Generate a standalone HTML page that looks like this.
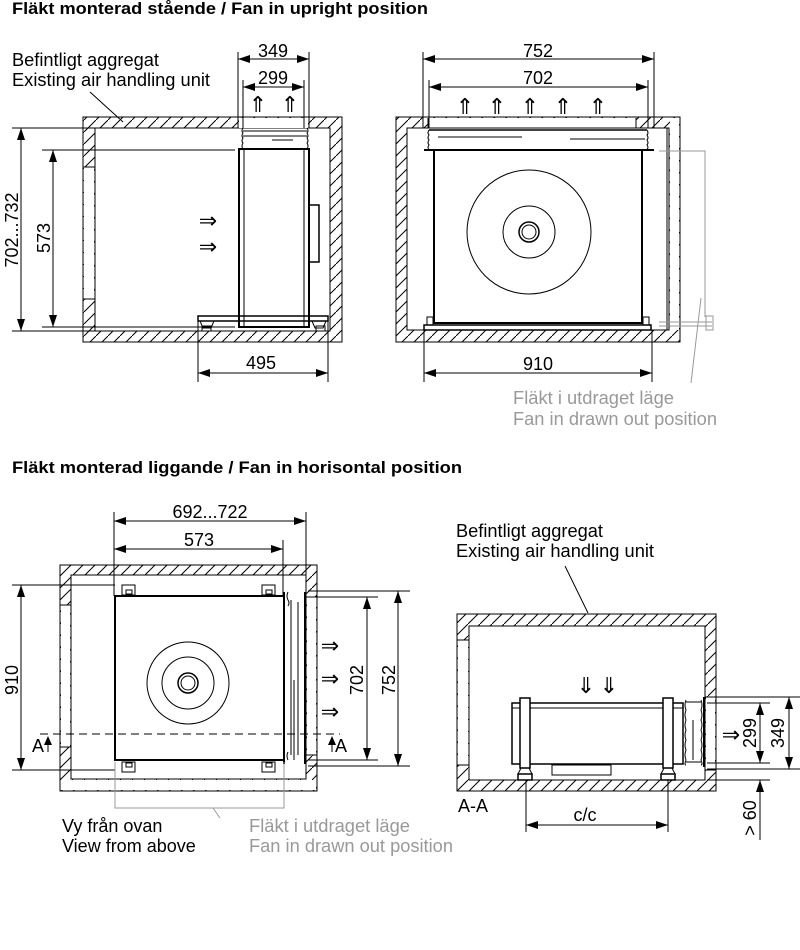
<!DOCTYPE html>
<html><head><meta charset="utf-8"><style>
html,body{margin:0;padding:0;background:#fff}
svg{display:block}
text{font-family:"Liberation Sans",Arial,sans-serif;fill:#000}
.t{font-size:18px}
.b{font-size:17px;font-weight:bold}
.g{fill:#999}
.ar{font-size:22px;font-family:"DejaVu Sans",sans-serif}
</style></head><body>
<svg width="800" height="950" viewBox="0 0 800 950" xmlns="http://www.w3.org/2000/svg">
<defs>
<pattern id="h" patternUnits="userSpaceOnUse" width="12" height="12">
<line x1="-1" y1="13" x2="13" y2="-1" stroke="#000" stroke-width="1"/>
</pattern>
<marker id="ae" viewBox="0 0 12 8" refX="12" refY="4" markerWidth="12" markerHeight="8" markerUnits="userSpaceOnUse" orient="auto"><path d="M0,0L12,4L0,8z" fill="#000"/></marker>
<marker id="as" viewBox="0 0 12 8" refX="0" refY="4" markerWidth="12" markerHeight="8" markerUnits="userSpaceOnUse" orient="auto"><path d="M12,0L0,4L12,8z" fill="#000"/></marker>
</defs>

<text x="12" y="14" class="b" textLength="416" lengthAdjust="spacingAndGlyphs">Fläkt monterad stående / Fan in upright position</text>
<text x="12" y="473" class="b" textLength="450" lengthAdjust="spacingAndGlyphs">Fläkt monterad liggande / Fan in horisontal position</text>

<!-- ===== Diagram 1 ===== -->
<rect x="83" y="117" width="259" height="225" fill="url(#h)" stroke="#000"/>
<rect x="95" y="128" width="235" height="203" fill="#fff" stroke="#000"/>
<rect x="84" y="167" width="10" height="132" fill="#fff"/>
<line x1="83" y1="167" x2="95" y2="167" stroke="#000"/>
<line x1="83" y1="299" x2="95" y2="299" stroke="#000"/>
<rect x="239" y="118" width="69" height="10" fill="#fff"/>
<g stroke="#000" fill="none">
<line x1="238" y1="52" x2="238" y2="128"/><line x1="309" y1="52" x2="309" y2="128"/>
<line x1="243" y1="80" x2="243" y2="128"/><line x1="304" y1="80" x2="304" y2="128"/>
<line x1="238" y1="59" x2="309" y2="59" marker-start="url(#as)" marker-end="url(#ae)"/>
<line x1="243" y1="87" x2="304" y2="87" marker-start="url(#as)" marker-end="url(#ae)"/>
<path d="M243,128 q-2,3 0,5 q-2,3 0,5 q-2,3 0,5 q-2,3 0,6"/>
<path d="M307,128 q2,3 0,5 q2,3 0,5 q2,3 0,5 q2,3 0,6"/>
<line x1="243" y1="131" x2="307" y2="131"/><line x1="243" y1="136" x2="307" y2="136"/>
<line x1="272" y1="140" x2="293" y2="140"/>
<rect x="239" y="149" width="70" height="178" stroke-width="2"/>
<line x1="244" y1="149" x2="244" y2="327"/><line x1="304" y1="149" x2="304" y2="327"/>
<rect x="309" y="205" width="10" height="57" stroke-width="1.5"/>
<rect x="198" y="316" width="130" height="5" stroke-width="1.5"/>
<path d="M200,321 l3,7 h8 l3,-7"/><rect x="202" y="326" width="9" height="5"/>
<path d="M312,321 l3,7 h8 l3,-7"/><rect x="316" y="326" width="9" height="5"/>
<line x1="12" y1="128" x2="95" y2="128"/><line x1="12" y1="331" x2="95" y2="331"/>
<line x1="21" y1="128" x2="21" y2="331" marker-start="url(#as)" marker-end="url(#ae)"/>
<line x1="42" y1="150" x2="235" y2="150"/><line x1="42" y1="327" x2="235" y2="327"/>
<line x1="53" y1="150" x2="53" y2="327" marker-start="url(#as)" marker-end="url(#ae)"/>
<line x1="198" y1="318" x2="198" y2="382"/><line x1="328" y1="318" x2="328" y2="382"/>
<line x1="198" y1="373" x2="328" y2="373" marker-start="url(#as)" marker-end="url(#ae)"/>
<line x1="90" y1="92" x2="123" y2="122"/>
</g>
<text x="12" y="66" class="t" textLength="147" lengthAdjust="spacingAndGlyphs">Befintligt aggregat</text>
<text x="12" y="86" class="t" textLength="198" lengthAdjust="spacingAndGlyphs">Existing air handling unit</text>
<text x="273" y="57" text-anchor="middle" class="t">349</text>
<text x="273" y="84" text-anchor="middle" class="t">299</text>
<text x="258" y="112" text-anchor="middle" class="ar">⇑</text>
<text x="290" y="112" text-anchor="middle" class="ar">⇑</text>
<text x="208" y="228" text-anchor="middle" class="ar">⇒</text>
<text x="208" y="254" text-anchor="middle" class="ar">⇒</text>
<text transform="translate(18,230) rotate(-90)" text-anchor="middle" class="t">702...732</text>
<text transform="translate(50,238) rotate(-90)" text-anchor="middle" class="t">573</text>
<text x="261" y="369" text-anchor="middle" class="t">495</text>

<!-- ===== Diagram 2 ===== -->
<rect x="396" y="117" width="284" height="225" fill="url(#h)" stroke="#000"/>
<rect x="407" y="128" width="262" height="202" fill="#fff" stroke="#000"/>
<rect x="670" y="118" width="9" height="212" fill="#fff"/>
<rect x="428" y="118" width="208" height="10" fill="#fff"/>
<g stroke="#000" fill="none">
<line x1="667" y1="128" x2="667" y2="330"/>
<line x1="423" y1="52" x2="423" y2="128"/><line x1="654" y1="52" x2="654" y2="128"/>
<line x1="429" y1="80" x2="429" y2="128"/><line x1="648" y1="80" x2="648" y2="128"/>
<line x1="423" y1="59" x2="654" y2="59" marker-start="url(#as)" marker-end="url(#ae)"/>
<line x1="429" y1="87" x2="648" y2="87" marker-start="url(#as)" marker-end="url(#ae)"/>
<line x1="428" y1="128" x2="636" y2="128"/>
<line x1="428" y1="118" x2="428" y2="128"/><line x1="636" y1="118" x2="636" y2="128"/>
<path d="M429,130 q-2,3 0,5 q-2,3 0,5 q-2,3 0,5 q-2,3 0,4"/>
<path d="M647,130 q2,3 0,5 q2,3 0,5 q2,3 0,5 q2,3 0,4"/>
<line x1="429" y1="130" x2="647" y2="130" stroke-width="1.5"/>
<line x1="438" y1="137" x2="522" y2="137"/><line x1="570" y1="139" x2="645" y2="139"/>
<line x1="424" y1="150" x2="654" y2="150" stroke-width="2"/>
<rect x="434" y="150" width="208" height="173" stroke-width="2"/>
<circle cx="529" cy="232" r="62"/><circle cx="529" cy="232" r="26"/>
<circle cx="529" cy="232" r="10" stroke-width="1.5"/><circle cx="529" cy="232" r="7"/>
<rect x="424" y="325" width="227" height="5" stroke-width="1.5"/>
<rect x="427" y="317" width="6" height="8"/><rect x="643" y="317" width="6" height="8"/>
<line x1="424" y1="330" x2="424" y2="382"/><line x1="652" y1="330" x2="652" y2="382"/>
<line x1="424" y1="373" x2="652" y2="373" marker-start="url(#as)" marker-end="url(#ae)"/>
</g>
<g stroke="#999" fill="none">
<path d="M659,151 H705 V317"/>
<line x1="659" y1="322" x2="712" y2="322"/><line x1="659" y1="326" x2="712" y2="326"/>
<rect x="706" y="316" width="7" height="14"/>
<line x1="691" y1="383" x2="701" y2="298"/>
</g>
<text x="538" y="57" text-anchor="middle" class="t">752</text>
<text x="538" y="84" text-anchor="middle" class="t">702</text>
<g text-anchor="middle" class="ar">
<text x="465" y="114" class="ar">⇑</text><text x="497" y="114" class="ar">⇑</text><text x="530" y="114" class="ar">⇑</text><text x="563" y="114" class="ar">⇑</text><text x="598" y="114" class="ar">⇑</text>
</g>
<text x="538" y="370" text-anchor="middle" class="t">910</text>
<text x="513" y="404" class="t g" textLength="161" lengthAdjust="spacingAndGlyphs">Fläkt i utdraget läge</text>
<text x="513" y="425" class="t g" textLength="204" lengthAdjust="spacingAndGlyphs">Fan in drawn out position</text>

<!-- ===== Diagram 3 ===== -->
<rect x="60" y="565" width="257" height="226" fill="url(#h)" stroke="#000"/>
<rect x="71" y="575" width="235" height="204" fill="#fff" stroke="#000"/>
<rect x="61" y="780" width="255" height="10" fill="#fff"/>
<rect x="61" y="605" width="9" height="142" fill="#fff"/>
<rect x="307" y="597" width="9" height="158" fill="#fff"/>
<g stroke="#000" fill="none">
<line x1="60" y1="605" x2="71" y2="605"/><line x1="60" y1="747" x2="71" y2="747"/>
<line x1="306" y1="597" x2="317" y2="597"/><line x1="306" y1="755" x2="317" y2="755"/>
<line x1="114" y1="512" x2="114" y2="596"/><line x1="306" y1="512" x2="306" y2="575"/>
<line x1="283" y1="540" x2="283" y2="596"/>
<line x1="114" y1="521" x2="306" y2="521" marker-start="url(#as)" marker-end="url(#ae)"/>
<line x1="114" y1="549" x2="283" y2="549" marker-start="url(#as)" marker-end="url(#ae)"/>
<rect x="115" y="596" width="169" height="164" stroke-width="2"/>
<rect x="122" y="585" width="13" height="10"/><rect x="126" y="590" width="6" height="4"/>
<rect x="262" y="585" width="13" height="10"/><rect x="266" y="590" width="6" height="4"/>
<rect x="122" y="762" width="13" height="10"/><rect x="126" y="763" width="6" height="4"/>
<rect x="262" y="762" width="13" height="10"/><rect x="266" y="763" width="6" height="4"/>
<circle cx="188" cy="683" r="41"/><circle cx="188" cy="683" r="26"/>
<circle cx="188" cy="683" r="10" stroke-width="1.5"/><circle cx="188" cy="683" r="7"/>
<line x1="284" y1="592" x2="284" y2="764" stroke-width="2"/>
<line x1="305" y1="592" x2="305" y2="764" stroke-width="2"/>
<path d="M288,592 q-2,4 0,8 q2,3 0,6 M288,752 q-2,4 0,8"/>
<line x1="291" y1="600" x2="291" y2="755"/><line x1="298" y1="602" x2="298" y2="755"/>
<line x1="294" y1="680" x2="294" y2="760"/>
<line x1="40" y1="734" x2="340" y2="734" stroke-dasharray="8,5"/>
<line x1="12" y1="585" x2="115" y2="585"/><line x1="12" y1="770" x2="115" y2="770"/>
<line x1="21" y1="585" x2="21" y2="770" marker-start="url(#as)" marker-end="url(#ae)"/>
<line x1="308" y1="591" x2="410" y2="591"/><line x1="308" y1="766" x2="410" y2="766"/>
<line x1="308" y1="597" x2="378" y2="597"/><line x1="308" y1="760" x2="378" y2="760"/>
<line x1="367" y1="597" x2="367" y2="760" marker-start="url(#as)" marker-end="url(#ae)"/>
<line x1="398" y1="591" x2="398" y2="766" marker-start="url(#as)" marker-end="url(#ae)"/>
<line x1="48" y1="752" x2="48" y2="740"/><line x1="332" y1="752" x2="332" y2="740"/>
</g>
<path d="M44,745 L48,736 L52,745z M328,745 L332,736 L336,745z" fill="#000"/>
<g stroke="#999" fill="none">
<path d="M115,762 V808 H284 V762"/>
<line x1="213" y1="808" x2="220" y2="818"/>
</g>
<text x="210" y="518" text-anchor="middle" class="t">692...722</text>
<text x="199" y="546" text-anchor="middle" class="t">573</text>
<text transform="translate(18,680) rotate(-90)" text-anchor="middle" class="t">910</text>
<text transform="translate(363,680) rotate(-90)" text-anchor="middle" class="t">702</text>
<text transform="translate(395,680) rotate(-90)" text-anchor="middle" class="t">752</text>
<g text-anchor="middle">
<text x="330" y="653" class="ar">⇒</text><text x="330" y="686" class="ar">⇒</text><text x="330" y="719" class="ar">⇒</text>
</g>
<text x="32" y="752" class="t">A</text>
<text x="335" y="752" class="t">A</text>
<text x="62" y="832" class="t">Vy från ovan</text>
<text x="62" y="852" class="t">View from above</text>
<text x="249" y="832" class="t g" textLength="161" lengthAdjust="spacingAndGlyphs">Fläkt i utdraget läge</text>
<text x="249" y="852" class="t g" textLength="204" lengthAdjust="spacingAndGlyphs">Fan in drawn out position</text>

<!-- ===== Diagram 4 ===== -->
<rect x="457" y="614" width="259" height="177" fill="url(#h)" stroke="#000"/>
<rect x="469" y="626" width="236" height="154" fill="#fff" stroke="#000"/>
<rect x="458" y="640" width="10" height="125" fill="#fff"/>
<rect x="706" y="697" width="9" height="73" fill="#fff"/>
<g stroke="#000" fill="none">
<line x1="457" y1="640" x2="469" y2="640"/><line x1="457" y1="765" x2="469" y2="765"/>
<line x1="705" y1="697" x2="716" y2="697"/><line x1="705" y1="770" x2="716" y2="770"/>
<rect x="512" y="703" width="171" height="61" stroke-width="1.5"/>
<line x1="512" y1="708" x2="683" y2="708"/>
<rect x="520" y="698" width="10" height="70" fill="#fff" stroke-width="1.5"/>
<rect x="663" y="698" width="10" height="70" fill="#fff" stroke-width="1.5"/>
<path d="M521,768 l-3,6 h14 l-3,-6"/><rect x="518" y="774" width="14" height="6" stroke-width="1.5"/>
<path d="M664,768 l-3,6 h14 l-3,-6"/><rect x="661" y="774" width="14" height="6" stroke-width="1.5"/>
<rect x="552" y="765" width="59" height="10"/>
<path d="M686,700 q-2,5 0,10 q-2,5 0,10 q-2,5 0,10 q-2,5 0,10 q-2,5 0,10 q-2,5 0,10 q-2,5 0,5"/>
<path d="M701,700 q2,5 0,10 q2,5 0,10 q2,5 0,10 q2,5 0,10 q2,5 0,10 q2,5 0,10 q2,5 0,5"/>
<line x1="686" y1="702" x2="701" y2="702"/><line x1="686" y1="762" x2="701" y2="762"/>
<line x1="693" y1="720" x2="693" y2="760"/>
<line x1="704" y1="697" x2="704" y2="767" stroke-width="2"/>
<line x1="707" y1="697" x2="800" y2="697"/><line x1="707" y1="703" x2="770" y2="703"/>
<line x1="707" y1="763" x2="770" y2="763"/><line x1="707" y1="769" x2="800" y2="769"/>
<line x1="707" y1="780" x2="770" y2="780"/>
<line x1="760" y1="703" x2="760" y2="763" marker-start="url(#as)" marker-end="url(#ae)"/>
<line x1="789" y1="697" x2="789" y2="769" marker-start="url(#as)" marker-end="url(#ae)"/>
<line x1="760" y1="840" x2="760" y2="780" marker-end="url(#ae)"/>
<line x1="526" y1="780" x2="526" y2="832"/><line x1="668" y1="780" x2="668" y2="832"/>
<line x1="526" y1="825" x2="668" y2="825" marker-start="url(#as)" marker-end="url(#ae)"/>
<line x1="565" y1="566" x2="588" y2="613"/>
</g>
<g text-anchor="middle">
<text x="586" y="693" class="ar">⇓</text><text x="609" y="693" class="ar">⇓</text><text x="731" y="742" class="ar">⇒</text>
</g>
<text transform="translate(756,733) rotate(-90)" text-anchor="middle" class="t">299</text>
<text transform="translate(784,733) rotate(-90)" text-anchor="middle" class="t">349</text>
<text transform="translate(756,818) rotate(-90)" text-anchor="middle" class="t">&gt; 60</text>
<text x="585" y="821" text-anchor="middle" class="t">c/c</text>
<text x="458" y="812" class="t">A-A</text>
<text x="456" y="537" class="t" textLength="147" lengthAdjust="spacingAndGlyphs">Befintligt aggregat</text>
<text x="456" y="557" class="t" textLength="198" lengthAdjust="spacingAndGlyphs">Existing air handling unit</text>
</svg>
</body></html>
